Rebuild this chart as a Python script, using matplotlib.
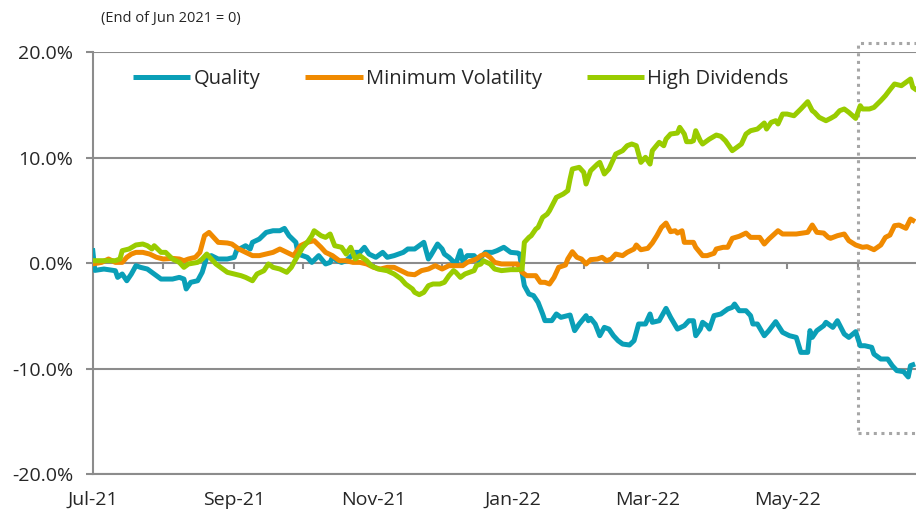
import matplotlib
matplotlib.use("Agg")
import matplotlib.pyplot as plt
from matplotlib.patches import Rectangle
from matplotlib.ticker import FuncFormatter
import pandas as pd

# Cumulative relative return (%), end of Jun 2021 = 0.
# x values are calendar days since 1 Jul 2021.
start = pd.Timestamp("2021-07-01")

quality_days = [0, 1, 5, 10, 11, 13, 15, 17, 19, 21, 24, 27, 30, 35, 38, 40, 41, 43, 46, 48,
                50, 52, 55, 59, 62, 63, 67, 69, 70, 73, 76, 79, 82, 84, 86, 89, 90, 94, 96, 99,
                102, 104, 105, 107, 109, 111, 115, 117, 119, 121, 124, 127, 129, 132, 136, 138,
                141, 143, 145, 147, 148, 151, 153, 154, 156, 159, 161, 162, 164, 167, 169, 170,
                172, 175, 177, 180, 183, 186, 187, 188, 189, 191, 193, 195, 197, 198, 201, 203,
                205, 209, 211, 213, 216, 217, 218, 220, 222, 224, 226, 228, 230, 232, 235, 237,
                239, 242, 244, 245, 248, 251, 253, 256, 259, 261, 263, 264, 266, 267, 269, 270,
                272, 275, 278, 280, 281, 283, 286, 288, 289, 291, 294, 296, 299, 302, 305, 308,
                310, 313, 314, 315, 317, 320, 321, 324, 326, 329, 331, 334, 336, 338, 341, 342,
                345, 348, 350, 352, 355, 357, 358, 360]
quality_vals = [1.4, -0.7, -0.57, -0.73, -1.36, -1.04, -1.68, -1.04, -0.25, -0.41, -0.57, -1.04,
                -1.52, -1.52, -1.36, -1.52, -2.46, -1.83, -1.68, -0.88, 0.54, 0.70, 0.38, 0.38,
                0.54, 1.17, 1.64, 1.33, 1.96, 2.27, 2.90, 3.06, 3.06, 3.28, 2.59, 1.96, 0.85,
                0.54, 0.06, 0.70, -0.09, 0.06, 0.54, 0.22, 0.06, 0.22, 1.01, 1.01, 1.49, 0.85,
                0.54, 1.01, 0.54, 0.70, 1.01, 1.33, 1.33, 1.64, 1.96, 0.38, 0.70, 1.80, 1.33,
                0.85, 0.54, -0.09, 1.17, 0.22, 0.70, 0.70, 0.22, 0.54, 1.01, 1.01, 1.17, 1.49,
                1.01, 0.95, 0.85, -0.88, -2.15, -2.94, -3.09, -3.73, -4.83, -5.46, -5.46, -4.83,
                -5.15, -4.93, -6.41, -5.78, -4.99, -5.47, -5.24, -5.78, -6.89, -6.10, -6.26,
                -6.89, -7.36, -7.68, -7.77, -7.36, -5.78, -5.78, -4.83, -5.62, -5.47, -4.30,
                -5.15, -6.26, -5.94, -5.47, -5.47, -6.89, -6.26, -5.62, -5.94, -6.26, -4.99,
                -4.83, -4.36, -4.20, -3.89, -4.52, -4.52, -4.99, -5.78, -5.78, -6.89, -6.41,
                -5.56, -6.57, -6.89, -7.05, -8.47, -8.47, -6.41, -7.05, -6.41, -5.94, -5.62,
                -6.10, -5.47, -6.73, -7.05, -6.51, -7.84, -7.84, -7.99, -8.63, -9.10, -9.10,
                -9.73, -10.2, -10.3, -10.8, -9.73, -9.57]

minvol_days = [0, 4, 7, 10, 13, 15, 17, 19, 22, 25, 28, 31, 35, 38, 40, 42, 45, 47, 49, 51, 53,
               55, 59, 61, 64, 67, 70, 73, 76, 79, 82, 85, 88, 91, 94, 97, 100, 102, 105, 108,
               111, 114, 117, 120, 123, 126, 129, 132, 135, 138, 141, 144, 147, 150, 153, 156,
               159, 162, 164, 166, 168, 170, 172, 174, 176, 179, 183, 186, 188, 190, 192, 194,
               196, 198, 200, 202, 204, 207, 208, 210, 212, 214, 216, 218, 221, 223, 225, 227,
               229, 232, 234, 237, 238, 240, 243, 245, 247, 249, 251, 253, 255, 256, 258, 259,
               263, 264, 267, 269, 272, 273, 276, 278, 280, 283, 286, 288, 292, 294, 296, 300,
               302, 308, 313, 315, 317, 320, 322, 323, 326, 329, 331, 334, 337, 339, 342, 345,
               347, 349, 351, 353, 356, 358, 360]
minvol_vals = [-0.09, 0.06, 0.38, 0.06, 0.06, 0.54, 0.85, 1.01, 1.01, 0.85, 0.54, 0.38, 0.44,
               0.38, 0.22, 0.38, 0.54, 1.01, 2.59, 2.90, 2.43, 1.96, 1.90, 1.80, 1.33, 1.01,
               0.70, 0.70, 0.85, 1.01, 1.33, 1.01, 0.70, 1.64, 1.96, 2.12, 1.49, 1.01, 0.70,
               0.22, 0.22, 0.06, 0.06, -0.09, -0.41, -0.57, -0.41, -0.41, -0.73, -1.04, -1.11,
               -0.72, -0.57, -0.25, -0.57, -0.25, -0.25, -0.25, 0.06, 0.22, 0.38, 0.70, 0.85,
               0.54, 0.06, -0.09, -0.09, -0.09, -0.88, -1.20, -1.20, -1.20, -1.83, -1.83, -1.99,
               -1.36, -0.41, -0.19, 0.38, 1.07, 0.54, 0.38, -0.09, 0.32, 0.38, 0.54, 0.22, 0.38,
               0.85, 0.70, 1.01, 1.33, 1.71, 1.26, 1.39, 1.90, 2.59, 3.38, 3.79, 2.97, 3.06,
               2.84, 3.06, 1.96, 1.96, 1.49, 0.70, 0.70, 0.92, 1.33, 1.49, 1.49, 2.34, 2.53,
               2.84, 2.43, 2.43, 1.80, 2.27, 3.06, 2.75, 2.75, 2.91, 3.60, 2.91, 2.84, 2.43,
               2.34, 2.59, 2.75, 2.12, 1.71, 1.49, 1.55, 1.26, 1.71, 2.43, 2.65, 3.54, 3.60,
               3.29, 4.17, 3.92]

highdiv_days = [0, 4, 7, 10, 12, 13, 16, 19, 22, 24, 26, 27, 30, 32, 35, 38, 40, 42, 46, 48, 50,
                52, 54, 57, 59, 62, 65, 67, 70, 72, 75, 77, 79, 82, 85, 87, 89, 92, 94, 96, 97,
                100, 102, 104, 106, 109, 111, 113, 115, 117, 120, 122, 125, 129, 132, 135, 137,
                140, 141, 143, 145, 147, 149, 152, 154, 156, 158, 159, 161, 163, 165, 167, 168,
                170, 171, 174, 176, 179, 183, 186, 188, 189, 191, 192, 194, 195, 197, 199, 200,
                203, 206, 208, 209, 210, 213, 215, 216, 218, 221, 222, 224, 226, 228, 229, 232,
                234, 236, 238, 240, 242, 244, 245, 248, 250, 251, 253, 256, 257, 259, 260, 262,
                263, 264, 266, 267, 270, 273, 275, 277, 280, 282, 284, 286, 288, 291, 294, 295,
                297, 299, 300, 302, 304, 307, 310, 313, 315, 316, 318, 321, 323, 325, 327, 329,
                331, 334, 336, 337, 340, 342, 345, 347, 349, 351, 354, 356, 358, 359, 361]
highdiv_vals = [0.22, 0.22, 0.22, 0.22, 0.38, 1.17, 1.33, 1.71, 1.80, 1.64, 1.33, 1.64, 1.01,
                1.01, 0.38, 0.06, -0.41, -0.09, 0.06, 0.38, 0.85, 0.38, -0.09, -0.57, -0.88,
                -1.04, -1.20, -1.36, -1.68, -1.04, -0.73, -0.09, -0.41, -0.57, -0.88, -0.41,
                0.38, 1.49, 1.96, 2.59, 3.06, 2.59, 2.43, 2.75, 1.64, 1.49, 0.85, 1.49, 0.38,
                0.70, 0.22, -0.25, -0.57, -0.73, -1.04, -1.50, -1.99, -2.46, -2.78, -3.00,
                -2.78, -2.15, -1.99, -1.99, -1.83, -1.20, -0.72, -0.88, -1.36, -1.04, -0.88,
                -0.72, -0.25, -0.09, 0.22, -0.09, -0.57, -0.72, -0.63, -0.63, -0.57, 1.96, 2.43,
                2.59, 3.22, 3.38, 4.33, 4.64, 4.96, 6.22, 6.54, 6.86, 7.96, 8.91, 9.07, 8.59,
                7.49, 8.75, 9.38, 9.54, 8.44, 8.91, 9.86, 10.33, 10.65, 11.12, 11.28, 11.12,
                9.54, 10.02, 9.38, 10.65, 11.44, 11.12, 11.75, 12.23, 12.32, 12.86, 12.23, 11.50,
                11.50, 11.59, 12.54, 11.59, 11.28, 11.75, 12.13, 12.01, 11.59, 10.65, 10.96,
                11.28, 12.23, 12.54, 12.70, 13.27, 12.70, 13.33, 13.49, 13.18, 14.12, 14.12,
                13.96, 14.60, 15.29, 14.44, 14.28, 13.81, 13.49, 13.71, 13.96, 14.44, 14.60,
                14.28, 13.71, 14.91, 14.60, 14.60, 14.75, 15.39, 15.86, 16.43, 16.97, 16.81,
                17.12, 17.44, 16.65, 16.34]

series_names = ["Quality", "Minimum Volatility", "High Dividends"]
series_colors = ["#0A9FB7", "#F08A00", "#99CC00"]

# visible window and highlighted period (last month)
x_end_day = 360.4
highlight_start = pd.Timestamp("2022-06-01")

GRAY = "#8C8C8C"
TEXT = "#262626"
plt.rcParams["font.family"] = ["Open Sans", "DejaVu Sans"]

fig = plt.figure(figsize=(9.16, 5.13), dpi=100)
ax = fig.add_axes([0.101, 0.076, 0.899, 0.8226])

series = [(quality_days, quality_vals), (minvol_days, minvol_vals), (highdiv_days, highdiv_vals)]
for (d, v), name, col in zip(series, series_names, series_colors):
    ax.plot(d, v, color=col, lw=3.6, label=name, solid_joinstyle="round", solid_capstyle="butt",
            zorder=3)

ax.set_xlim(0, x_end_day)
ax.set_ylim(-20, 20)

# y axis
ax.set_yticks([-20, -10, 0, 10, 20])
ax.yaxis.set_major_formatter(FuncFormatter(lambda v, _: f"{v:.1f}%"))
ax.grid(axis="y", color=GRAY, lw=1.5)
ax.set_axisbelow(True)
ax.tick_params(axis="y", length=5, width=1.5, color=GRAY, labelsize=14, labelcolor=TEXT, pad=9)

for s in ["top", "right"]:
    ax.spines[s].set_visible(False)
ax.spines["left"].set_color(GRAY)
ax.spines["left"].set_linewidth(1.5)
ax.spines["bottom"].set_color(GRAY)
ax.spines["bottom"].set_linewidth(1.5)

# x axis labels every two months at the bottom
months = pd.date_range("2021-07-01", "2022-06-01", freq="MS")
month_days = [(m - start).days for m in months]
label_months = months[::2]
ax.set_xticks([(m - start).days for m in label_months])
ax.set_xticklabels([m.strftime("%b-%y") for m in label_months])
ax.tick_params(axis="x", length=0, labelsize=14, labelcolor=TEXT, pad=12)

# monthly tick marks hanging from the zero line
ax.vlines(month_days, -0.6, 0, colors=GRAY, lw=1.5, zorder=1)

# dotted highlight box for the latest month
hx = (highlight_start - start).days
ax.add_patch(Rectangle((hx, -16.1), 60, 37.0, fill=False, edgecolor="#A6A6A6", lw=2.2,
                       linestyle=(0, (1, 1.5)), clip_on=False, zorder=2))

ax.legend(loc="center left", bbox_to_anchor=(0.049, 0.936), ncol=3, frameon=False,
          fontsize=14.5, handlelength=2.85, handletextpad=0.15, columnspacing=2.25,
          borderpad=0, borderaxespad=0, labelcolor=TEXT)

fig.text(0.110, 0.963, "(End of Jun 2021 = 0)", fontsize=10.5, color=TEXT, va="center", ha="left")

fig.savefig("out.png", dpi=100)
